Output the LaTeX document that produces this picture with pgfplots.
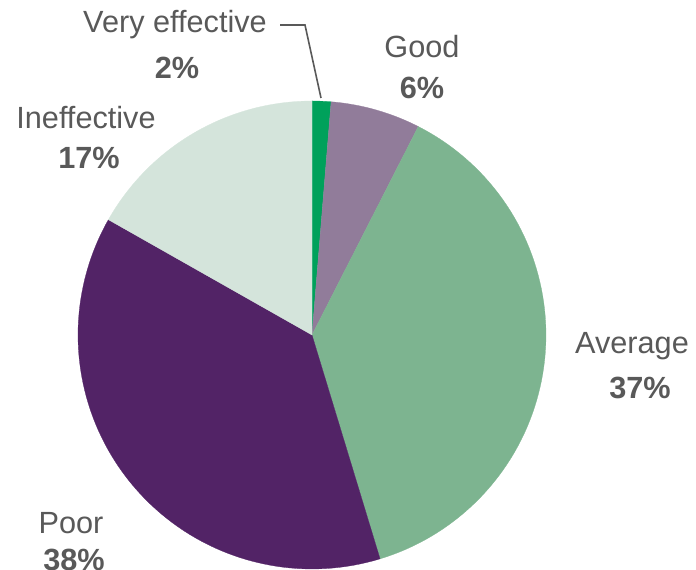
\documentclass[border=0pt]{standalone}
\usepackage{pgfplots}
\pgfplotsset{compat=1.18}
\usepackage{fontspec}
\setmainfont{Liberation Sans}
\definecolor{cVery}{HTML}{00A15B}
\definecolor{cGood}{HTML}{917C9A}
\definecolor{cAvg}{HTML}{7DB490}
\definecolor{cPoor}{HTML}{522366}
\definecolor{cIneff}{HTML}{D4E4DB}
\definecolor{txt}{HTML}{595959}
\tikzset{lab/.style={text=txt, font=\fontsize{23}{27}\selectfont, inner sep=0pt},
         pct/.style={text=txt, font=\fontsize{23}{27}\selectfont\bfseries, inner sep=0pt}}
% #1 = cumulative start (%), #2 = share (%), #3 = colour
\newcommand{\slice}[3]{%
  \pgfmathsetmacro{\aA}{90-3.6*(#1+#2)}%
  \pgfmathsetmacro{\aB}{90-3.6*#1}%
  \addplot[fill=#3, draw=#3, line width=0.2pt, domain=\aA:\aB, samples=80, variable=\t]
    ({312+234*cos(\t)},{235+234*sin(\t)}) -- (axis cs:312,235) -- cycle;
}
\begin{document}
\begin{tikzpicture}
\begin{axis}[x=0.75pt, y=0.75pt, xmin=0, xmax=696, ymin=0, ymax=570,
  hide axis, clip=false]
\slice{0}{1.3}{cVery}
\slice{1.3}{6.2}{cGood}
\slice{7.5}{37.8}{cAvg}
\slice{45.3}{37.9}{cPoor}
\slice{83.2}{16.8}{cIneff}
% labels
\node[lab] at (axis cs:175,545) {Very effective};
\node[pct] at (axis cs:177,502) {2\%};
\draw[txt, line width=1.2pt] (axis cs:280,545) -- (axis cs:305,545) -- (axis cs:321,472);
\node[lab] at (axis cs:422,523) {Good};
\node[pct] at (axis cs:422,482) {6\%};
\node[lab] at (axis cs:86,452) {Ineffective};
\node[pct] at (axis cs:89,412) {17\%};
\node[lab] at (axis cs:632,224) {Average};
\node[pct] at (axis cs:640,182) {37\%};
\node[lab] at (axis cs:71,47) {Poor};
\node[pct] at (axis cs:74,10) {38\%};
\end{axis}
\pgfresetboundingbox
\path (0,0) rectangle (522pt,427.5pt);
\end{tikzpicture}
\end{document}
